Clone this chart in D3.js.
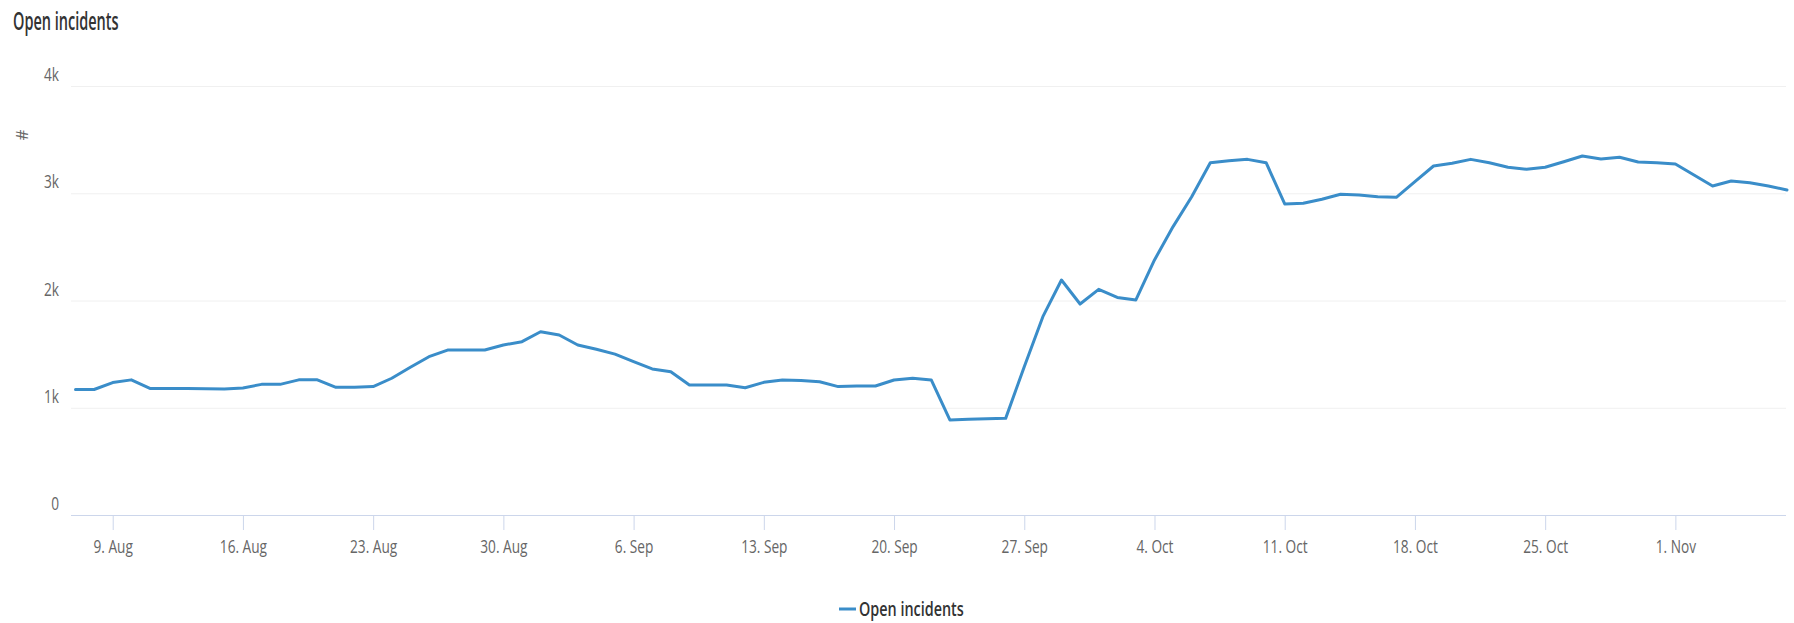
<!DOCTYPE html>
<html>
<head>
<meta charset="utf-8">
<script src="https://cdn.jsdelivr.net/npm/d3@7"></script>
<style>
  body { margin: 0; background: #fff; }
  svg { display: block; font-family: "Open Sans", sans-serif; }
</style>
</head>
<body>
<svg id="chart"></svg>
<script>
// daily open incident counts
const dates = [
  "2021-08-07","2021-08-08","2021-08-09","2021-08-10","2021-08-11","2021-08-12","2021-08-13","2021-08-14","2021-08-15","2021-08-16",
  "2021-08-17","2021-08-18","2021-08-19","2021-08-20","2021-08-21","2021-08-22","2021-08-23","2021-08-24","2021-08-25","2021-08-26",
  "2021-08-27","2021-08-28","2021-08-29","2021-08-30","2021-08-31","2021-09-01","2021-09-02","2021-09-03","2021-09-04","2021-09-05",
  "2021-09-06","2021-09-07","2021-09-08","2021-09-09","2021-09-10","2021-09-11","2021-09-12","2021-09-13","2021-09-14","2021-09-15",
  "2021-09-16","2021-09-17","2021-09-18","2021-09-19","2021-09-20","2021-09-21","2021-09-22","2021-09-23","2021-09-24","2021-09-25",
  "2021-09-26","2021-09-27","2021-09-28","2021-09-29","2021-09-30","2021-10-01","2021-10-02","2021-10-03","2021-10-04","2021-10-05",
  "2021-10-06","2021-10-07","2021-10-08","2021-10-09","2021-10-10","2021-10-11","2021-10-12","2021-10-13","2021-10-14","2021-10-15",
  "2021-10-16","2021-10-17","2021-10-18","2021-10-19","2021-10-20","2021-10-21","2021-10-22","2021-10-23","2021-10-24","2021-10-25",
  "2021-10-26","2021-10-27","2021-10-28","2021-10-29","2021-10-30","2021-10-31","2021-11-01","2021-11-02","2021-11-03","2021-11-04",
  "2021-11-05","2021-11-06","2021-11-07"
];

const openIncidents = [
  1170, 1170, 1235, 1260, 1180, 1180, 1180, 1178, 1175, 1185,
  1218, 1218, 1260, 1260, 1190, 1190, 1197, 1275, 1377, 1476,
  1538, 1538, 1538, 1585, 1616, 1709, 1678, 1585, 1545, 1500,
  1430, 1362, 1336, 1212, 1212, 1212, 1187, 1237, 1259, 1253,
  1243, 1197, 1203, 1203, 1259, 1274, 1259, 886, 892, 898,
  901, 1383, 1849, 2191, 1967, 2104, 2029, 2005, 2378, 2689,
  2968, 3285, 3304, 3316, 3285, 2900, 2906, 2944, 2990, 2984,
  2968, 2962, 3108, 3254, 3279, 3316, 3285, 3242, 3223, 3242,
  3294, 3347, 3319, 3335, 3291, 3285, 3273, 3170, 3068, 3114,
  3098, 3068, 3030
];

const yTicks = [0, 1000, 2000, 3000, 4000];
const yTickLabels = ["0", "1k", "2k", "3k", "4k"];
const seriesName = "Open incidents";
const chartTitle = "Open incidents";

const width = 1794, height = 623;
const plotLeft = 71, plotRight = 1786, plotTop = 86, plotBottom = 515;
const lineColor = "#3a8dc9";
const squeeze = "scale(0.76,1)";

const parse = d3.utcParse("%Y-%m-%d");
const data = dates.map((d, i) => ({ date: parse(d), value: openIncidents[i] }));

const svg = d3.select("#chart")
    .attr("width", width)
    .attr("height", height);

const x = d3.scaleUtc()
    .domain(d3.extent(data, d => d.date))
    .range([75.5, plotRight + 1]);

const y = d3.scaleLinear()
    .domain([0, 4000])
    .range([plotBottom, plotTop]);

// title
svg.append("text")
    .attr("transform", "translate(13,30) scale(0.58,1)")
    .attr("font-size", 25)
    .attr("font-weight", 600)
    .attr("fill", "#333")
    .text(chartTitle);

// y axis title
svg.append("text")
    .attr("transform", "translate(28,135) rotate(-90)")
    .attr("text-anchor", "middle")
    .attr("font-size", 17)
    .attr("fill", "#666")
    .text("#");

// grid + y labels
svg.append("g").selectAll("line")
    .data(yTicks.filter(t => t > 0))
    .join("line")
    .attr("x1", plotLeft).attr("x2", plotRight)
    .attr("y1", d => y(d) + 0.5).attr("y2", d => y(d) + 0.5)
    .attr("stroke", "#f0f0f0");

svg.append("g").selectAll("text")
    .data(yTicks)
    .join("text")
    .attr("transform", d => "translate(59," + (y(d) - 5) + ") " + squeeze)
    .attr("text-anchor", "end")
    .attr("font-size", 18)
    .attr("fill", "#666")
    .text((d, i) => yTickLabels[i]);

// x axis
const xAxis = d3.axisBottom(x)
    .tickValues(d3.utcMonday.range(x.domain()[0], x.domain()[1]))
    .tickFormat(d3.utcFormat("%-d. %b"))
    .tickSize(15)
    .tickPadding(10);

const gx = svg.append("g")
    .attr("transform", "translate(0," + plotBottom + ")")
    .call(xAxis);

gx.select(".domain").remove();
gx.append("line")
    .attr("x1", plotLeft).attr("x2", plotRight)
    .attr("y1", 0.5).attr("y2", 0.5)
    .attr("stroke", "#ccd6eb");
gx.selectAll(".tick line").attr("stroke", "#ccd6eb");
gx.selectAll(".tick text")
    .attr("font-family", "Open Sans, sans-serif")
    .attr("font-size", 18)
    .attr("fill", "#666")
    .attr("transform", squeeze);

// the series
svg.append("path")
    .datum(data)
    .attr("fill", "none")
    .attr("stroke", lineColor)
    .attr("stroke-width", 3)
    .attr("stroke-linejoin", "round")
    .attr("stroke-linecap", "round")
    .attr("d", d3.line()
        .x(d => x(d.date))
        .y(d => y(d.value)));

// legend
const legend = svg.append("g").attr("transform", "translate(839,609)");
legend.append("line")
    .attr("x1", 0).attr("x2", 17)
    .attr("stroke", lineColor)
    .attr("stroke-width", 3);
legend.append("text")
    .attr("transform", "translate(20,7) " + "scale(0.72,1)")
    .attr("font-size", 20)
    .attr("font-weight", 600)
    .attr("fill", "#333")
    .text(seriesName);
</script>
</body>
</html>
